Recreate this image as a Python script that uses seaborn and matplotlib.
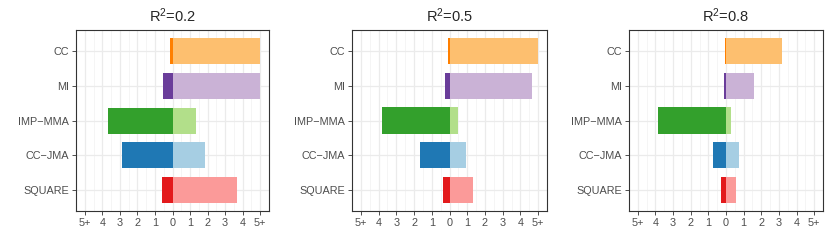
import numpy as np
import pandas as pd
import seaborn as sns
import matplotlib.pyplot as plt

# data
methods = ['CC', 'MI', 'IMP\u2212MMA', 'CC\u2212JMA', 'SQUARE']
panels = ['R$^{2}$=0.2', 'R$^{2}$=0.5', 'R$^{2}$=0.8']
left_vals = [
    [-0.15, -0.55, -3.70, -2.89, -0.62],
    [-0.09, -0.23, -3.80, -1.69, -0.36],
    [-0.05, -0.11, -3.86, -0.71, -0.28],
]
right_vals = [
    [5.0, 5.0, 1.33, 1.84, 3.68],
    [5.0, 4.64, 0.47, 0.92, 1.33],
    [3.17, 1.59, 0.26, 0.75, 0.54],
]
dark_cols = ['#FF7F00', '#6A3D9A', '#33A02C', '#1F78B4', '#E31A1C']
light_cols = ['#FDBF6F', '#CAB2D6', '#B2DF8A', '#A6CEE3', '#FB9A99']
tick_pos = [-5, -4, -3, -2, -1, 0, 1, 2, 3, 4, 5]
tick_lab = ['5+', '4', '3', '2', '1', '0', '1', '2', '3', '4', '5+']

sns.set_style('white')
plt.rcParams['font.family'] = ['Liberation Sans', 'DejaVu Sans']
plt.rcParams['mathtext.default'] = 'regular'

W, H = 830, 249
fig = plt.figure(figsize=(W / 100, H / 100), dpi=100)

# axes boxes in pixels: left, right, top, bottom
boxes = [(76, 269, 30.5, 211), (352, 547, 30, 211), (629, 823, 30, 211)]

for i in range(3):
    l, r, t, b = boxes[i]
    ax = fig.add_axes([l / W, 1 - b / H, (r - l) / W, (b - t) / H])
    df = pd.DataFrame({'method': methods, 'neg': left_vals[i], 'pos': right_vals[i]})

    # grid first
    for x in np.arange(-4.5, 5, 1.0):
        ax.axvline(x, color='#F2F2F2', lw=0.5, zorder=0)
    for x in tick_pos:
        ax.axvline(x, color='#EBEBEB', lw=0.9, zorder=0)
    for y in range(len(methods)):
        ax.axhline(y, color='#EBEBEB', lw=0.9, zorder=0)

    sns.barplot(data=df, x='pos', y='method', hue='method', palette=light_cols,
                orient='h', width=0.75, legend=False, ax=ax, saturation=1,
                edgecolor='none', zorder=2)
    sns.barplot(data=df, x='neg', y='method', hue='method', palette=dark_cols,
                orient='h', width=0.75, legend=False, ax=ax, saturation=1,
                edgecolor='none', zorder=3)

    ax.set_xlim(-5.5, 5.5)
    ax.set_ylim(4.6, -0.6)
    ax.set_xticks(tick_pos)
    ax.set_xticklabels(tick_lab)
    ax.set_xlabel('')
    ax.set_ylabel('')
    ax.set_title(panels[i], fontsize=10.5, pad=6)
    ax.tick_params(axis='both', labelsize=7.8, labelcolor='#4D4D4D', color='#333333',
                   length=3, width=0.6, direction='out', pad=2,
                   bottom=True, left=True)
    for s in ax.spines.values():
        s.set_visible(True)
        s.set_color('#333333')
        s.set_linewidth(0.8)

fig.savefig('out.png', dpi=100)
